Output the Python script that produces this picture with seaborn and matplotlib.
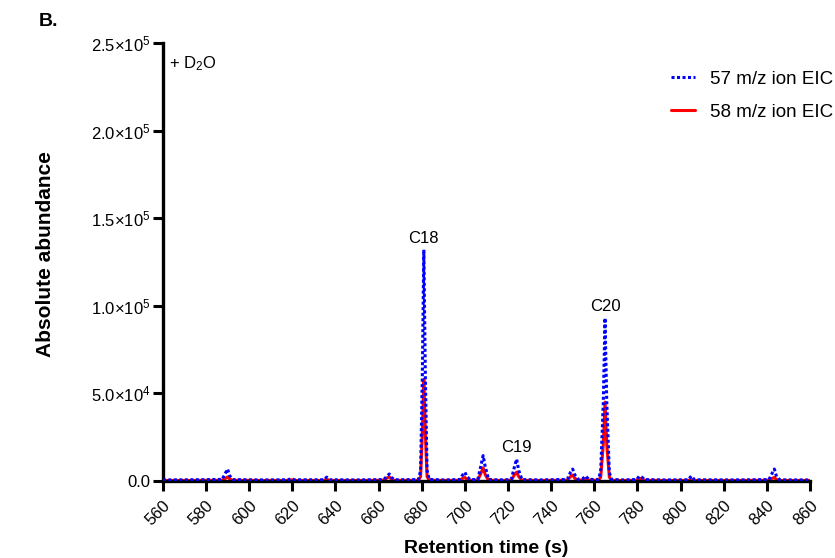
import numpy as np
import pandas as pd
import matplotlib
matplotlib.use("Agg")
import matplotlib.pyplot as plt
import seaborn as sns

# Retention time grid (s) and abundances
times = [560, 575, 587.5, 589, 590, 591, 592.5, 605, 618, 619.5, 621, 634.5, 636, 637.5,
         650, 662.5, 664, 665, 666, 667.5,
         678.5, 679.5, 680.3, 681, 681.7, 682.5, 683.5,
         690, 697.5, 699, 700, 701, 702.5,
         706, 707.5, 708.5, 709.5, 711,
         716, 721.5, 723, 724, 725, 726.5,
         735, 747.5, 749, 750, 751, 752.5, 754.5, 756, 757.5,
         762, 763, 764.2, 765, 765.8, 767, 768,
         773, 779.5, 781, 782, 783.5,
         792, 803.5, 805, 806.5,
         825, 841, 842.5, 843.5, 844.5, 846, 852, 860]
eic57 = [600, 700, 900, 4500, 6800, 3000, 800, 600, 700, 1300, 700, 700, 2200, 700,
         600, 800, 3000, 4000, 2000, 700,
         800, 6000, 60000, 132000, 60000, 6000, 900,
         600, 800, 3500, 5000, 2500, 800,
         800, 9000, 14500, 8000, 900,
         600, 800, 8000, 12500, 6000, 800,
         600, 900, 5000, 6800, 3500, 900, 1200, 2800, 900,
         900, 6000, 45000, 93000, 45000, 5000, 900,
         600, 800, 2800, 2200, 800,
         600, 700, 2800, 700,
         600, 800, 4500, 6800, 2500, 700, 600, 600]
eic58 = [300, 300, 400, 1500, 2300, 1200, 400, 300, 300, 700, 300, 300, 1000, 300,
         300, 400, 1800, 2300, 1000, 300,
         400, 2500, 27000, 58000, 27000, 2500, 400,
         300, 400, 1500, 2000, 1000, 400,
         400, 4500, 7500, 3500, 400,
         300, 400, 3500, 5000, 2500, 400,
         300, 400, 2500, 3400, 1500, 500, 600, 1500, 500,
         400, 2200, 21000, 45000, 21000, 2200, 400,
         300, 400, 1500, 1200, 400,
         300, 300, 800, 300,
         300, 400, 1500, 2000, 800, 300, 300, 300]

peak_labels = ["C18", "C19", "C20"]
peak_times = [681, 724, 765]
peak_heights = [132000, 12500, 93000]

x_ticks = list(range(560, 861, 20))
y_ticks = [0, 50000, 100000, 150000, 200000, 250000]
y_tick_labels = ["0.0", "5.0×10$^{4}$", "1.0×10$^{5}$", "1.5×10$^{5}$",
                 "2.0×10$^{5}$", "2.5×10$^{5}$"]

sns.set_theme(style="ticks")
plt.rcParams['font.family'] = ['Liberation Sans', 'DejaVu Sans']
plt.rcParams['mathtext.fontset'] = 'custom'
plt.rcParams['mathtext.rm'] = 'Liberation Sans'
plt.rcParams['mathtext.it'] = 'Liberation Sans:italic'
plt.rcParams['mathtext.bf'] = 'Liberation Sans:bold'
for k in ['text.color', 'axes.labelcolor', 'xtick.color', 'ytick.color', 'axes.edgecolor']:
    plt.rcParams[k] = 'black'

df = pd.DataFrame({"time": times * 2,
                   "abundance": eic58 + eic57,
                   "series": ["58 m/z ion EIC"] * len(times) + ["57 m/z ion EIC"] * len(times)})

fig = plt.figure(figsize=(8.35, 5.58), dpi=100)
ax = fig.add_axes([0.195, 0.138, 0.775, 0.785])

sns.lineplot(data=df[df.series == "58 m/z ion EIC"], x="time", y="abundance", ax=ax,
             color="#ff0000", linewidth=2.2, label="58 m/z ion EIC", zorder=2)
sns.lineplot(data=df[df.series == "57 m/z ion EIC"], x="time", y="abundance", ax=ax,
             color="#0000ff", linewidth=2.2, linestyle=(0, (1, 0.8)), label="57 m/z ion EIC", zorder=3)

ax.set_xlim(560, 860)
ax.set_ylim(0, 250000)
ax.set_xticks(x_ticks)
ax.set_xticklabels([str(t) for t in x_ticks], rotation=45, ha="right", rotation_mode="anchor", fontsize=12)
ax.set_yticks(y_ticks)
ax.set_yticklabels(y_tick_labels, fontsize=12)
ax.tick_params(axis="both", direction="out", length=7, width=2.2, color="black", pad=2)
ax.tick_params(axis="x", pad=5)
for s in ["top", "right"]:
    ax.spines[s].set_visible(False)
for s in ["left", "bottom"]:
    ax.spines[s].set_linewidth(2.4)
    ax.spines[s].set_color("black")

ax.set_xlabel("Retention time (s)", fontsize=14, fontweight="bold")
ax.set_ylabel("Absolute abundance", fontsize=15, fontweight="bold")
ax.xaxis.set_label_coords(0.5, -0.135)
ax.yaxis.set_label_coords(-0.166, 0.518)

for lab, t, h in zip(peak_labels, peak_times, peak_heights):
    ax.annotate(lab, xy=(t, h), xytext=(0, 3), textcoords="offset points",
                ha="center", va="bottom", fontsize=12)

ax.text(563, 238000, "+ D$_2$O", fontsize=12, ha="left", va="center")
fig.text(0.047, 0.962, "B.", fontsize=14, fontweight="bold", ha="left", va="center")

handles, labels = ax.get_legend_handles_labels()
order = [labels.index("57 m/z ion EIC"), labels.index("58 m/z ion EIC")]
leg = ax.legend([handles[i] for i in order], [labels[i] for i in order],
                loc="upper right", bbox_to_anchor=(1.062, 0.975), frameon=False,
                fontsize=13.5, handlelength=1.3, handletextpad=0.8, labelspacing=0.85)

fig.savefig("out.png", dpi=100)
